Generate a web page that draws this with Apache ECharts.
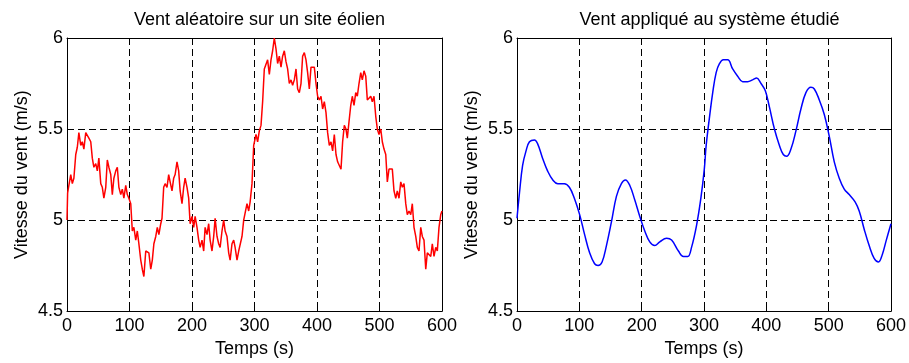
<!DOCTYPE html>
<html>
<head>
<meta charset="utf-8">
<script src="https://cdn.jsdelivr.net/npm/echarts@6/dist/echarts.min.js"></script>
<style>html,body{margin:0;padding:0;background:#fff}#c{width:909px;height:363px}</style>
</head>
<body>
<div id="c"></div>
<script>
// Left panel: random wind on a wind farm site
const timeRandom = [0,1,3,6,8.5,11,14,16.5,19,22,24.5,27,30,32.5,35,38,40.5,43,46,48.5,51,54,56.5,59,62,64.5,67,70,72.5,75,78,80.5,83,86,88.5,91,94,96.5,99,102,104.5,107,110,112.5,115,118,120.5,123,126,128.5,131,134,136.5,139,142,144.5,147,150,152,154.7,157,160,162.7,165,168,170.7,173,176,178.7,181,184,186.7,189,192,194.7,197,200,202.7,205,208,210.7,213,216,218.7,221,224,226.7,229,232,234.7,237,240,242.7,245,248,250.7,253,256,258.7,261,264,266.7,269,272,274.7,277,280,282.7,285,288,290.7,293,296,298.7,302.4,305,307.7,310.4,313,315.7,318.4,321,323.7,326.4,329,331.7,334.4,337,339.7,342.4,345,347.7,350.4,353,355.7,358.4,361,363.7,366.4,369,371.7,374.4,377,379.7,382.4,385,387.7,390.4,393,395.7,398.4,401,403.7,406.4,409,411.7,414.4,417,419.7,422.4,425,427.7,430.4,433,435.7,438.4,441,443.7,446.4,448.5,451.2,454,456.5,459.2,462,464.5,467.2,470,472.5,475.2,478,480.5,483.2,486,488.5,491.2,494,496.5,499.2,502,504.5,507.2,510,512.5,515.2,518,520.5,523.2,526,528.5,531.2,534,536.5,539.2,542,544.5,547.2,550,552.5,555.2,558,560.5,563.2,566,568.5,571.2,574,576.5,579.2,582,584.5,587.2,590,592.5,595.2,598,600];
const speedRandom = [5.00,5.15,5.19,5.25,5.20,5.23,5.36,5.40,5.48,5.41,5.43,5.39,5.48,5.49,5.45,5.43,5.34,5.29,5.31,5.27,5.34,5.20,5.18,5.12,5.18,5.33,5.29,5.25,5.14,5.23,5.27,5.29,5.18,5.14,5.17,5.12,5.19,5.14,5.12,5.09,4.94,4.96,4.89,4.94,4.87,4.78,4.73,4.69,4.83,4.83,4.82,4.73,4.78,4.87,4.91,4.96,4.92,4.98,5.01,5.18,5.20,5.18,5.25,5.21,5.16,5.23,5.25,5.32,5.27,5.16,5.09,5.18,5.23,5.18,5.12,4.98,5.02,4.96,5.02,4.96,4.89,4.85,4.89,4.83,4.96,4.92,4.98,4.89,4.83,4.91,5.01,4.91,4.87,4.85,4.94,5.00,4.94,4.91,4.82,4.78,4.87,4.89,4.85,4.78,4.83,4.83,4.91,5.00,5.01,5.09,5.05,5.10,5.20,5.41,5.47,5.43,5.49,5.52,5.65,5.83,5.84,5.88,5.80,5.88,5.93,6.00,5.94,5.86,5.90,5.84,5.90,5.93,5.87,5.83,5.75,5.77,5.74,5.77,5.83,5.72,5.70,5.75,5.90,5.92,5.88,5.81,5.72,5.84,5.83,5.84,5.75,5.68,5.66,5.68,5.61,5.65,5.59,5.48,5.41,5.43,5.38,5.47,5.36,5.32,5.30,5.28,5.43,5.52,5.50,5.45,5.54,5.63,5.68,5.63,5.70,5.68,5.75,5.81,5.77,5.82,5.79,5.66,5.65,5.68,5.65,5.68,5.57,5.50,5.47,5.50,5.43,5.39,5.36,5.21,5.28,5.27,5.28,5.16,5.12,5.16,5.12,5.21,5.18,5.20,5.09,5.03,5.05,5.03,5.09,4.96,4.91,4.85,4.83,4.96,4.91,4.89,4.73,4.82,4.83,4.80,4.87,4.80,4.85,4.83,4.96,5.03,5.05];

// Right panel: wind applied to the studied system (smoothed)
const timeApplied = [0,4,9,14.5,20,28,33,41,49,57.5,65.5,76,84,92,100.5,108.5,116.5,124.5,130,136.5,143.5,151.5,159.5,167.5,174,181,189,197,205,213,221,229,240,248,259,267,274,280,288,295,300.5,303.5,309,314,319.5,325,331,338,346,354,362,370,378,384.5,391.5,398.4,405,413,421,427.2,432.5,439.5,447.5,455.5,463.5,471.5,477,485,493,501,509,517,525,533,542.4,549,557,565,573,580,586,592.5,600];
const speedApplied = [5.01,5.15,5.30,5.38,5.43,5.44,5.42,5.34,5.27,5.22,5.20,5.20,5.18,5.12,5.03,4.92,4.82,4.76,4.75,4.77,4.86,4.99,5.13,5.20,5.22,5.19,5.11,5.02,4.94,4.88,4.86,4.88,4.90,4.89,4.83,4.80,4.80,4.85,4.97,5.12,5.28,5.41,5.57,5.70,5.81,5.86,5.88,5.88,5.83,5.79,5.76,5.76,5.77,5.78,5.75,5.71,5.62,5.50,5.41,5.36,5.35,5.39,5.49,5.61,5.70,5.73,5.72,5.66,5.58,5.46,5.32,5.23,5.17,5.14,5.10,5.05,4.95,4.86,4.79,4.77,4.81,4.89,4.98];

const xTicks = [0,100,200,300,400,500,600];
const yTicks = [4.5,5,5.5,6];

const titles = ['Vent aléatoire sur un site éolien', 'Vent appliqué au système étudié'];
const xName = 'Temps (s)';
const yName = 'Vitesse du vent (m/s)';

const FONT = '"Liberation Sans", Arial, Helvetica, sans-serif';
const FS = 18;

const grids = [
  {left: 67, top: 38, width: 375, height: 278},
  {left: 517, top: 38, width: 375, height: 276}
];

const gridLine = {show: true, lineStyle: {color: '#000', type: [7, 4], width: 1}};
const xAxes = [], yAxes = [];
grids.forEach((g, i) => {
  // bottom axis with labels
  xAxes.push({
    type: 'value', gridIndex: i, min: xTicks[0], max: xTicks[xTicks.length-1], interval: 100,
    name: xName, nameLocation: 'middle', nameGap: 24,
    nameTextStyle: {fontFamily: FONT, fontSize: FS, color: '#000'},
    axisLine: {show: true, lineStyle: {color: '#000', width: 1}},
    axisTick: {show: true, inside: true, length: 6, lineStyle: {color: '#000'}},
    axisLabel: {fontFamily: FONT, fontSize: FS, color: '#000', margin: 6},
    splitLine: gridLine
  });
  // top axis (box + ticks)
  xAxes.push({
    type: 'value', gridIndex: i, position: 'top', min: xTicks[0], max: xTicks[xTicks.length-1], interval: 100,
    axisLine: {show: true, onZero: false, lineStyle: {color: '#000', width: 1}},
    axisTick: {show: true, inside: true, length: 6, lineStyle: {color: '#000'}},
    axisLabel: {show: false}, splitLine: {show: false}
  });
  yAxes.push({
    type: 'value', gridIndex: i, min: yTicks[0], max: yTicks[yTicks.length-1], interval: 0.5,
    name: yName, nameLocation: 'middle', nameGap: 36, nameRotate: 90,
    nameTextStyle: {fontFamily: FONT, fontSize: FS, color: '#000'},
    axisLine: {show: true, onZero: false, lineStyle: {color: '#000', width: 1}},
    axisTick: {show: true, inside: true, length: 6, lineStyle: {color: '#000'}},
    axisLabel: {fontFamily: FONT, fontSize: FS, color: '#000', margin: 4,
      formatter: v => String(v)},
    splitLine: gridLine
  });
  yAxes.push({
    type: 'value', gridIndex: i, position: 'right', min: yTicks[0], max: yTicks[yTicks.length-1], interval: 0.5,
    axisLine: {show: true, onZero: false, lineStyle: {color: '#000', width: 1}},
    axisTick: {show: true, inside: true, length: 6, lineStyle: {color: '#000'}},
    axisLabel: {show: false}, splitLine: {show: false}
  });
});

const pairs = (xs, ys) => xs.map((x, k) => [x, ys[k]]);

const option = {
  animation: false,
  backgroundColor: '#fff',
  title: [
    {text: titles[0], left: 254.5, top: 6, textAlign: 'center',
     textStyle: {fontFamily: FONT, fontSize: FS, fontWeight: 'normal', color: '#000'}},
    {text: titles[1], left: 704.5, top: 6, textAlign: 'center',
     textStyle: {fontFamily: FONT, fontSize: FS, fontWeight: 'normal', color: '#000'}}
  ],
  grid: grids,
  xAxis: xAxes,
  yAxis: yAxes,
  series: [
    {type: 'line', xAxisIndex: 0, yAxisIndex: 0, data: pairs(timeRandom, speedRandom),
     showSymbol: false, symbol: 'none', lineStyle: {color: '#ff0000', width: 1.5}, z: 3},
    {type: 'line', xAxisIndex: 2, yAxisIndex: 2, data: pairs(timeApplied, speedApplied),
     smooth: 0.4, showSymbol: false, symbol: 'none', lineStyle: {color: '#0000ff', width: 1.5}, z: 3}
  ]
};
const chart = echarts.init(document.getElementById('c'), null, {renderer: 'canvas'});
chart.setOption(option);
</script>
</body>
</html>
